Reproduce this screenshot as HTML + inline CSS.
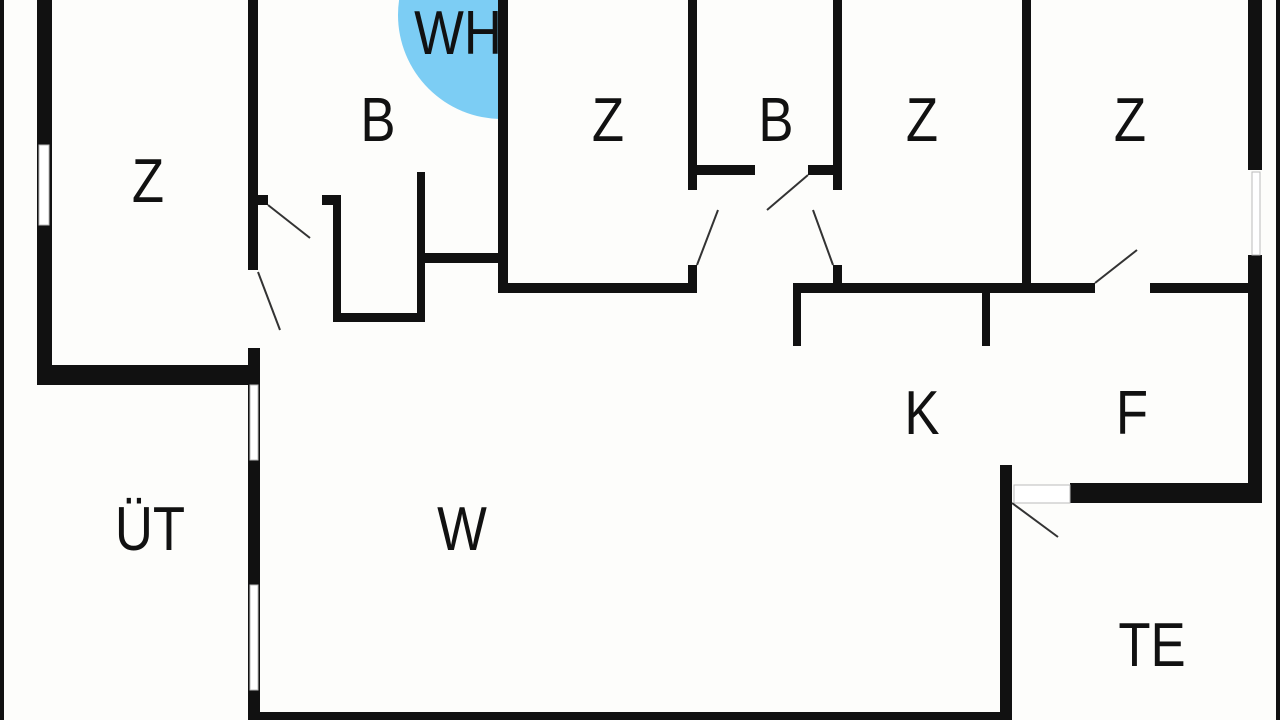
<!DOCTYPE html>
<html><head><meta charset="utf-8"><style>
html,body{margin:0;padding:0;background:#fdfdfb;}
svg{display:block;}
text{font-family:"Liberation Sans","DejaVu Sans",sans-serif;font-size:62px;fill:#111;}
</style></head><body>
<svg width="1280" height="720" viewBox="0 0 1280 720" xmlns="http://www.w3.org/2000/svg">
<rect width="1280" height="720" fill="#fdfdfb"/>
<defs><clipPath id="c"><rect x="0" y="0" width="500" height="720"/></clipPath></defs>
<circle cx="502" cy="15" r="104" fill="#7ccdf4" clip-path="url(#c)"/>
<g fill="#111">
<!-- frame edges -->
<rect x="0" y="0" width="4" height="720"/>
<rect x="1276" y="0" width="4" height="720"/>
<!-- left Z room -->
<rect x="37" y="0" width="15" height="385"/>
<rect x="37" y="365" width="221" height="20"/>
<!-- wall x 250 -->
<rect x="248" y="0" width="10" height="270"/>
<rect x="248" y="348" width="12" height="37"/>
<rect x="248" y="385" width="12" height="335"/>
<!-- bottom -->
<rect x="248" y="712" width="764" height="8"/>
<!-- B room -->
<rect x="258" y="195" width="10" height="10"/>
<rect x="322" y="195" width="19" height="10"/>
<rect x="333" y="195" width="8" height="127"/>
<rect x="333" y="313" width="92" height="9"/>
<rect x="417" y="172" width="8" height="150"/>
<rect x="424" y="253" width="76" height="10"/>
<rect x="498" y="0" width="10" height="293"/>
<rect x="500" y="283" width="197" height="10"/>
<!-- Z2/B small -->
<rect x="688" y="0" width="9" height="190"/>
<rect x="688" y="265" width="9" height="28"/>
<rect x="690" y="165" width="65" height="10"/>
<rect x="808" y="165" width="34" height="10"/>
<rect x="833" y="0" width="9" height="190"/>
<rect x="833" y="265" width="9" height="28"/>
<!-- horizontal wall kitchen -->
<rect x="793" y="283" width="302" height="10"/>
<rect x="1150" y="283" width="112" height="10"/>
<rect x="793" y="283" width="8" height="63"/>
<rect x="982" y="283" width="8" height="63"/>
<rect x="1022" y="0" width="9" height="283"/>
<!-- right outer -->
<rect x="1248" y="0" width="14" height="170"/>
<rect x="1248" y="255" width="14" height="248"/>
<rect x="1070" y="483" width="192" height="20"/>
<rect x="1000" y="465" width="12" height="255"/>
</g>
<!-- windows / door gaps -->
<g fill="#fff" stroke="#bbb" stroke-width="1">
<rect x="39" y="145" width="10" height="80"/>
<rect x="250" y="385" width="8" height="75"/>
<rect x="250" y="585" width="8" height="105"/>
<rect x="1252" y="172" width="8" height="83"/>
<rect x="1014" y="485" width="56" height="18"/>
</g>
<g stroke="#333" stroke-width="2">
<line x1="268" y1="205" x2="310" y2="238"/>
<line x1="258" y1="272" x2="280" y2="330"/>
<line x1="697" y1="265" x2="718" y2="210"/>
<line x1="808" y1="175" x2="767" y2="210"/>
<line x1="833" y1="265" x2="813" y2="210"/>
<line x1="1095" y1="283" x2="1137" y2="250"/>
<line x1="1012" y1="503" x2="1058" y2="537"/>
</g>
<g text-anchor="middle">
<text x="148" y="202" transform="translate(148 0) scale(0.85 1) translate(-148 0)">Z</text>
<text x="378" y="141" transform="translate(378 0) scale(0.85 1) translate(-378 0)">B</text>
<text x="458" y="54" transform="translate(458 0) scale(0.85 1) translate(-458 0)">WH</text>
<text x="608" y="141" transform="translate(608 0) scale(0.85 1) translate(-608 0)">Z</text>
<text x="776" y="141" transform="translate(776 0) scale(0.85 1) translate(-776 0)">B</text>
<text x="922" y="141" transform="translate(922 0) scale(0.85 1) translate(-922 0)">Z</text>
<text x="1130" y="141" transform="translate(1130 0) scale(0.85 1) translate(-1130 0)">Z</text>
<text x="922" y="434" transform="translate(922 0) scale(0.85 1) translate(-922 0)">K</text>
<text x="1132" y="434" transform="translate(1132 0) scale(0.85 1) translate(-1132 0)">F</text>
<text x="150" y="550" transform="translate(150 0) scale(0.85 1) translate(-150 0)">ÜT</text>
<text x="462" y="550" transform="translate(462 0) scale(0.85 1) translate(-462 0)">W</text>
<text x="1152" y="666" transform="translate(1152 0) scale(0.85 1) translate(-1152 0)">TE</text>
</g>
</svg>
</body></html>
